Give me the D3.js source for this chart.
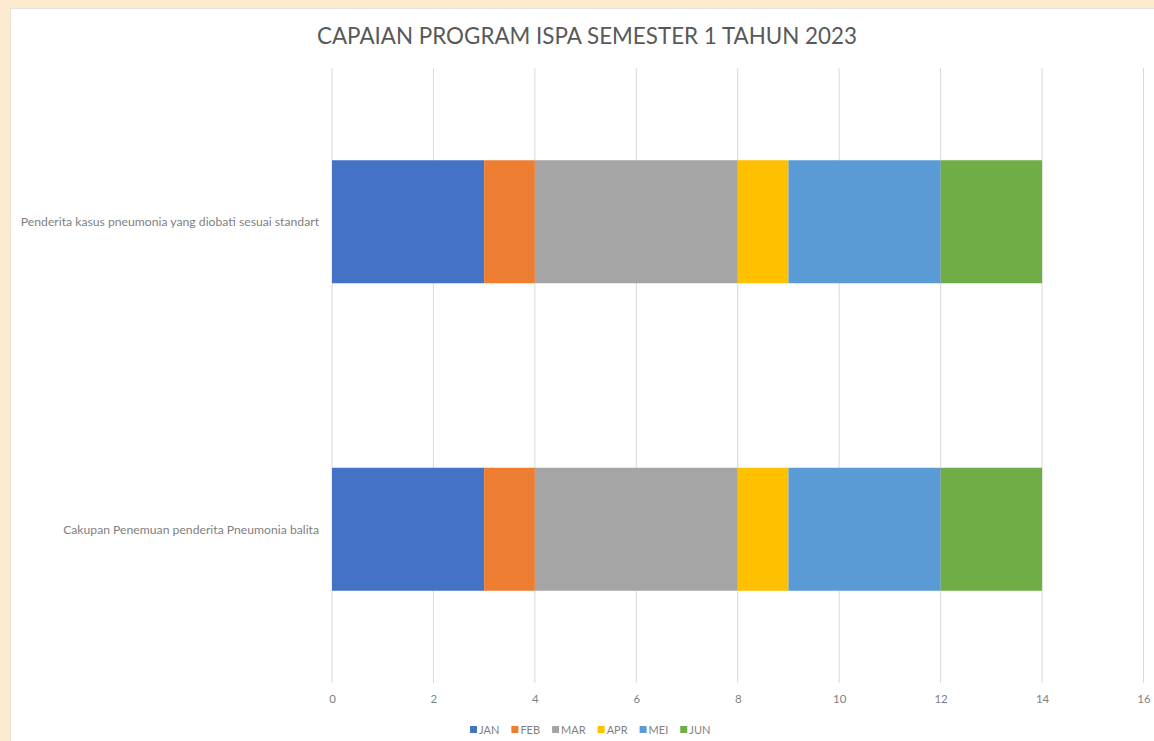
<!DOCTYPE html>
<html>
<head>
<meta charset="utf-8">
<script src="https://cdn.jsdelivr.net/npm/d3@7"></script>
<style>
  body { margin: 0; background: #fdebd0; }
  svg { display: block; font-family: Lato, "Open Sans", sans-serif; }
</style>
</head>
<body>
<div id="chart"></div>
<script>
(function()
{
    var width = 1154;
    var height = 741;

    // data
    var categories = ["Penderita kasus pneumonia yang diobati sesuai standart",
                      "Cakupan Penemuan penderita Pneumonia balita"];
    var months = ["JAN", "FEB", "MAR", "APR", "MEI", "JUN"];
    var JAN = [3, 3];
    var FEB = [1, 1];
    var MAR = [4, 4];
    var APR = [1, 1];
    var MEI = [3, 3];
    var JUN = [2, 2];
    var xTicks = [0, 2, 4, 6, 8, 10, 12, 14, 16];
    var colors = ["#4472C4", "#ED7D31", "#A5A5A5", "#FFC000", "#5B9BD5", "#70AD47"];

    var series = [JAN, FEB, MAR, APR, MEI, JUN];
    var rows = categories.map(function(c, i) {
        var r = {cat: c};
        months.forEach(function(m, j) { r[m] = series[j][i]; });
        return r;
    });
    var stacked = d3.stack().keys(months)(rows);

    var svg = d3.select("#chart").append("svg")
        .attr("width", width)
        .attr("height", height);

    // white chart area over the beige page
    svg.append("rect")
        .attr("x", 10.5).attr("y", 8.5)
        .attr("width", width).attr("height", height)
        .attr("fill", "#fff")
        .attr("stroke", "#e6e2dc");

    var x = d3.scaleLinear().domain([0, 16]).range([332, 1143.5]);
    var y = d3.scaleBand().domain(categories).range([68, 683])
        .paddingInner(0.6).paddingOuter(0.3);

    // gridlines
    svg.append("g").selectAll("line").data(xTicks)
        .enter().append("line")
        .attr("x1", function(d){return x(d)}).attr("x2", function(d){return x(d)})
        .attr("y1", 68).attr("y2", 683)
        .attr("stroke", "#d9d9d9").attr("stroke-width", 1);

    // bars
    svg.append("g").selectAll("g").data(stacked)
        .enter().append("g")
        .attr("fill", function(d, i){return colors[i]})
        .selectAll("rect").data(function(d){return d})
        .enter().append("rect")
        .attr("x", function(d){return x(d[0])})
        .attr("width", function(d){return x(d[1]) - x(d[0])})
        .attr("y", function(d){return y(d.data.cat)})
        .attr("height", y.bandwidth());

    // x axis labels
    var axis = d3.axisBottom(x).tickValues(xTicks).tickSize(0).tickPadding(0);
    var gx = svg.append("g").attr("transform", "translate(0, 695)").call(axis);
    gx.select(".domain").remove();
    gx.selectAll("text").attr("fill", "#7f7f7f").style("font-size", "11.5px")
        .style("font-family", "Lato, 'Open Sans', sans-serif");

    // category labels
    svg.append("g").selectAll("text").data(categories)
        .enter().append("text")
        .attr("x", 319)
        .attr("y", function(d){return y(d) + y.bandwidth() / 2})
        .attr("dy", "0.35em")
        .attr("text-anchor", "end")
        .attr("fill", "#7f7f7f")
        .style("font-size", "12.2px")
        .text(function(d){return d});

    // title
    svg.append("text")
        .attr("x", 587).attr("y", 44)
        .attr("text-anchor", "middle")
        .attr("fill", "#595959")
        .style("font-size", "22.4px")
        .text("CAPAIAN PROGRAM ISPA SEMESTER 1 TAHUN 2023");

    // legend
    var legend = svg.append("g").attr("transform", "translate(470, 730)");
    var offs = 0;
    months.forEach(function(m, i) {
        var g = legend.append("g").attr("transform", "translate(" + offs + ",0)");
        g.append("rect").attr("x", 0).attr("y", -4).attr("width", 7).attr("height", 7)
            .attr("fill", colors[i]);
        var t = g.append("text").attr("x", 9).attr("y", 0).attr("dy", "0.35em")
            .attr("fill", "#7f7f7f").style("font-size", "11px").text(m);
        offs += 9 + t.node().getComputedTextLength() + 12;
    });
})();
</script>
</body>
</html>
